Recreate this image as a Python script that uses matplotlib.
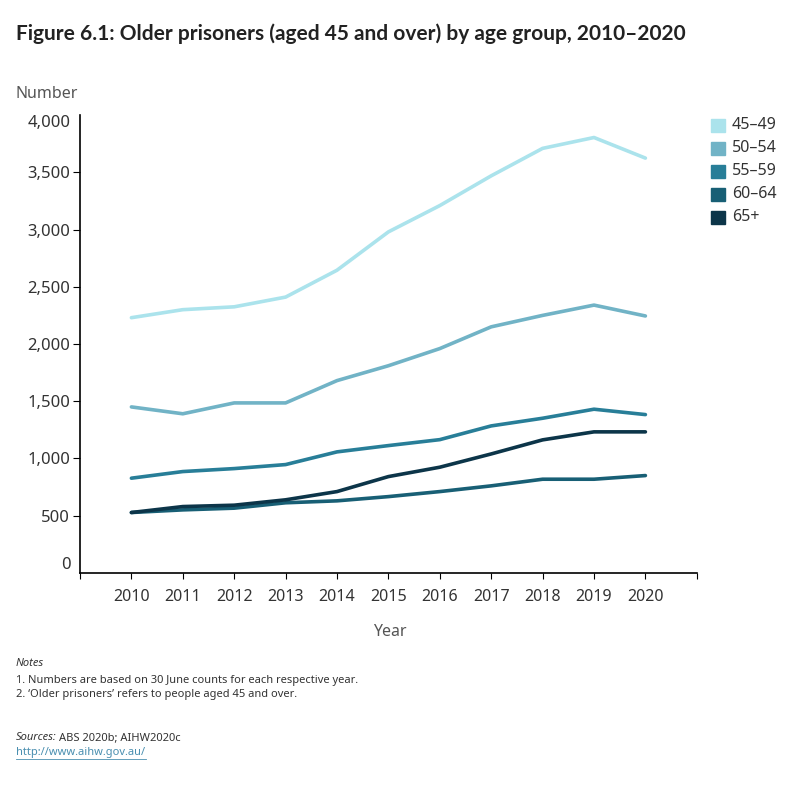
import matplotlib
matplotlib.use('Agg')
import matplotlib.pyplot as plt
from matplotlib.patches import Rectangle

plt.rcParams['font.family'] = ['Noto Sans', 'DejaVu Sans']

### data
years = [2010, 2011, 2012, 2013, 2014, 2015, 2016, 2017, 2018, 2019, 2020]
age_groups = ['45–49', '50–54', '55–59', '60–64', '65+']
aged_45_49 = [2230, 2300, 2325, 2410, 2645, 2980, 3210, 3470, 3710, 3805, 3625]
aged_50_54 = [1450, 1390, 1485, 1485, 1680, 1810, 1960, 2150, 2250, 2340, 2245]
aged_55_59 = [827, 885, 911, 946, 1057, 1112, 1164, 1284, 1351, 1430, 1383]
aged_60_64 = [527, 550, 565, 612, 629, 666, 710, 760, 818, 818, 850]
aged_65_plus = [527, 579, 591, 638, 710, 841, 923, 1039, 1162, 1232, 1232]
y_ticks = [0, 500, 1000, 1500, 2000, 2500, 3000, 3500, 4000]

series = [aged_45_49, aged_50_54, aged_55_59, aged_60_64, aged_65_plus]
colors = ['#abe3ec', '#71b3c6', '#287e98', '#185f75', '#0c3549']

fig = plt.figure(figsize=(8, 8), dpi=100)
ax = fig.add_axes([0.1, 0.284, 0.771, 0.572])

for vals, c in zip(series, colors):
    ax.plot(years, vals, color=c, lw=2.6, solid_capstyle='round')

ax.set_xlim(2009, 2021)
ax.set_ylim(0, 4000)
ax.spines['top'].set_visible(False)
ax.spines['right'].set_visible(False)
ax.spines['left'].set_linewidth(1.2)
ax.spines['bottom'].set_linewidth(1.2)

# x ticks at every year incl. the axis ends, labels only for data years
ax.set_xticks(list(range(2009, 2022)))
ax.set_xticklabels([str(y) if y in years else '' for y in range(2009, 2022)])
ax.tick_params(axis='x', length=4, width=0.8, labelsize=11.5, labelcolor='#333333', pad=8)

ax.set_yticks(y_ticks)
ax.set_yticklabels([f'{v:,}' for v in y_ticks])
ax.tick_params(axis='y', length=5, width=0.8, labelsize=12, labelcolor='#333333', pad=2)
yt = ax.yaxis.get_major_ticks()
yt[0].tick1line.set_visible(False)
yt[-1].tick1line.set_visible(False)
yt[0].label1.set_verticalalignment('bottom')
yt[-1].label1.set_verticalalignment('top')

# titles and axis captions
fig.text(0.02, 0.958, 'Figure 6.1: Older prisoners (aged 45 and over) by age group, 2010–2020',
         fontsize=15, fontweight='bold', family=['Lato', 'DejaVu Sans'],
         color='#222222', va='center')
fig.text(0.019, 0.883, 'Number', fontsize=11.5, color='#555555', va='center')
fig.text(0.4875, 0.21, 'Year', fontsize=11.5, color='#555555', ha='center', va='center')

# legend as squares with labels
for i, (lab, c) in enumerate(zip(age_groups, colors)):
    yy = 1 - (125 + 23 * i) / 800
    fig.patches.append(Rectangle((711 / 800, yy - 0.009), 0.017, 0.017,
                                 transform=fig.transFigure, color=c))
    fig.text(732 / 800, yy, lab, fontsize=11.5, color='#333333', va='center')

# notes and sources
fig.text(0.02, 1 - 664 / 800, 'Notes', fontsize=8, style='italic', color='#333333', va='center')
fig.text(0.02, 1 - 680 / 800, '1. Numbers are based on 30 June counts for each respective year.',
         fontsize=8, color='#333333', va='center')
fig.text(0.02, 1 - 695 / 800, "2. ‘Older prisoners’ refers to people aged 45 and over.",
         fontsize=8, color='#333333', va='center')
fig.text(0.02, 1 - 738 / 800, 'Sources:', fontsize=8, style='italic', color='#333333', va='center')
fig.text(0.074, 1 - 738 / 800, 'ABS 2020b; AIHW2020c', fontsize=8, color='#333333', va='center')
fig.text(0.02, 1 - 753 / 800, 'http://www.aihw.gov.au/', fontsize=8, color='#4a8fb0',
         va='center', url='http://www.aihw.gov.au/')
fig.add_artist(plt.Line2D([0.02, 0.183], [1 - 759 / 800] * 2, color='#4a8fb0', lw=0.6))

fig.savefig('out.png', dpi=100)
